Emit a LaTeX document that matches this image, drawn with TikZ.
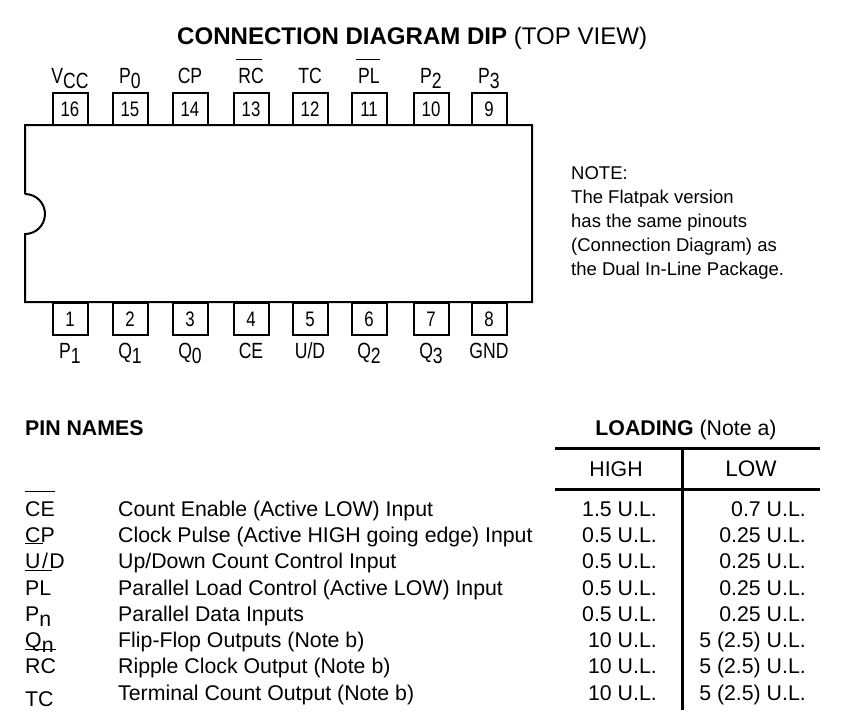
\documentclass[tikz,border=0pt]{standalone}
\usepackage{fontspec}
\setmainfont{Liberation Sans}
\newfontfamily\narrowfont[FakeStretch=0.8]{Liberation Sans}
\newcommand{\sub}[1]{\raisebox{-5.5pt}{#1}}
\newcommand{\updown}{U\kern1.5pt/\kern1.5ptD}
\newcommand{\upcount}{Up/Down Count Control Input}
\newcommand{\updownpin}{U/D}
\tikzset{
  txt/.style={inner sep=0pt,font=\fontsize{21.3}{25}\selectfont},
  lbl/.style={txt,anchor=base west},
  val/.style={txt,anchor=base east},
  pinbox/.style={draw,line width=2pt,minimum width=35pt,inner sep=0pt,font=\narrowfont\fontsize{21}{25}\selectfont},
  pinname/.style={inner sep=0pt,anchor=base,font=\narrowfont\fontsize{22}{26}\selectfont},
  rule/.style={line width=3pt},
  bar/.style={line width=1pt}
}
\begin{document}
\begin{tikzpicture}[x=1pt,y=-1pt]
   \useasboundingbox (0,0) rectangle (843,716);
   \node[anchor=base west,inner sep=0pt,font=\fontsize{24.05}{28}\selectfont] (title) at (177,44) {\textbf{CONNECTION DIAGRAM DIP} (TOP VIEW)};
   % pins
   \foreach \n/\x/\t in {16/70/V\sub{CC},15/130/P\sub{0},14/190/CP,13/251/RC,12/310/TC,11/369/PL,10/431/P\sub{2},9/489/P\sub{3}} {
    \node[pinbox,minimum height=33pt] (pin\n) at (\x,109) {\raisebox{-2.5pt}{\n}};
    \node[pinname] (name\n) at (\x,83) {\t};
   }
   \foreach \n/\x/\t in {1/70/P\sub{1},2/130/Q\sub{1},3/190/Q\sub{0},4/251/CE,5/310/\updownpin,6/369/Q\sub{2},7/431/Q\sub{3},8/489/GND} {
    \node[pinbox,minimum height=32pt] (pin\n) at (\x,319) {\n};
    \node[pinname] (name\n) at (\x,358) {\t};
   }
   % package outline with notch
   \draw[fill=white,line width=2pt] (25,194) -- (25,125) -- (532,125) -- (532,302) -- (25,302) -- (25,234)
     arc[start angle=-90,end angle=90,radius=20pt,y=1pt];
   \draw[bar] (236,59) -- (262,59);
   \draw[bar] (356,59) -- (380,59);
   % note
   \foreach \y/\t in {179/NOTE:,203/The Flatpak version,227/has the same pinouts,251/(Connection Diagram) as,275/the Dual In-Line Package.} {
    \node[lbl,font=\fontsize{18.5}{22}\selectfont] at (571,\y) {\t};
   }
   % table
   \node[lbl] (pinnames) at (25,435) {\textbf{PIN NAMES}};
   \node[txt,anchor=base] (loading) at (686,435) {\textbf{LOADING} (Note a)};
   \node[txt,anchor=base] (high) at (616,476) {HIGH};
   \node[txt,anchor=base,font=\fontsize{22.5}{26}\selectfont] (low) at (751,476) {LOW};
   \draw[rule] (555,448) -- (820,448);
   \draw[rule] (555,489) -- (820,489);
   \draw[rule] (682,448) -- (682,710);
   \foreach \y/\ya/\a/\b/\c/\d in {
    516/516/CE/Count Enable (Active LOW) Input/1.5 U.L./0.7 U.L.,
    542/542/CP/Clock Pulse (Active HIGH going edge) Input/0.5 U.L./0.25 U.L.,
    568/568/\updown/\upcount/0.5 U.L./0.25 U.L.,
    595/595/PL/Parallel Load Control (Active LOW) Input/0.5 U.L./0.25 U.L.,
    621/621/P\sub{n}/Parallel Data Inputs/0.5 U.L./0.25 U.L.,
    647/647/Q\sub{n}/Flip-Flop Outputs (Note b)/10 U.L./5 (2.5) U.L.,
    673/673/RC/Ripple Clock Output (Note b)/10 U.L./5 (2.5) U.L.,
    700/706/TC/Terminal Count Output (Note b)/10 U.L./5 (2.5) U.L.} {
    \node[val] at (657,\y) {\c};
    \node[val] at (806,\y) {\d};
    \node[lbl] at (118,\y) {\b};
    \node[lbl] at (25,\ya) {\a};
   }
   \draw[bar] (25,491) -- (55,491);
   \draw[bar] (25,543) -- (43,543);
   \draw[bar] (25,570) -- (52,570);
   \draw[bar] (25,649) -- (56,649);
  \end{tikzpicture}
\end{document}
